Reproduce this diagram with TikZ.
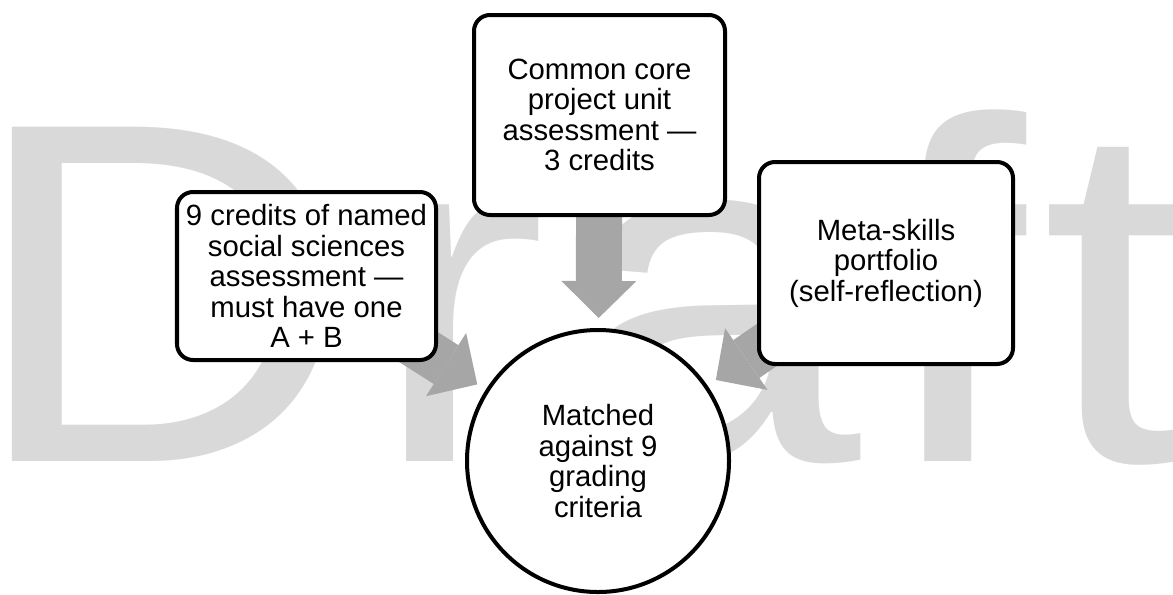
\documentclass[tikz,border=0pt]{standalone}
\usepackage{fontspec}
\setmainfont{Liberation Sans}
\usepackage{graphicx}
\usepackage{tikz}
\usetikzlibrary{arrows.meta,positioning}
\definecolor{wmgray}{RGB}{217,217,217}
\definecolor{feedgray}{RGB}{166,166,166}
\newcommand{\cardfont}{\fontsize{20.84pt}{21.7pt}\selectfont}
\newcommand{\wmfont}{\fontsize{345.7pt}{345.7pt}\selectfont}
\pgfdeclarelayer{back}
\pgfdeclarelayer{mid}
\pgfsetlayers{back,mid,main}
\tikzset{
  card/.style={draw=black,line width=2.85pt,rounded corners=11.4pt,fill=white,align=center,inner sep=0pt,font=\cardfont},
  hub/.style={circle,draw=black,line width=2.85pt,fill=white,align=center,inner sep=0pt,minimum size=65.5mm,font=\cardfont},
  feed/.style={-{Triangle[width=53.3pt,length=26.3pt,line width=0pt]},draw=feedgray,line width=32.7pt,shorten >=2.5mm},
  wmark/.style={text=wmgray,inner sep=0pt,font=\wmfont}
}
\begin{document}
\begin{tikzpicture}[x=0.25mm,y=0.25mm]
\useasboundingbox (0,0) rectangle (1173,-594);
\node[card,minimum width=62.75mm,minimum height=50mm] (core) at (599.5,-115) {Common core\\project unit\\assessment —\\3 credits};
\node[card,minimum width=64.75mm,minimum height=42mm] (social) at (306.5,-276) {9 credits of named\\social sciences\\assessment —\\must have one\\A + B};
\node[card,minimum width=63.5mm,minimum height=50.5mm] (meta) at (886,-263) {Meta-skills\\portfolio\\(self-reflection)};
\node[hub] (crit) at (598,-461) {Matched\\against 9\\grading\\criteria};

\begin{pgfonlayer}{mid}
\draw[feed] (core.center) -- (crit);
\draw[feed] (social.center) -- (crit);
\draw[feed] (meta.center) -- (crit);
\end{pgfonlayer}

\begin{pgfonlayer}{back}
\node[wmark,anchor=base west] (draft) at (0,-461) {\scalebox{1.1}[1]{\kern-7.27mm D\kern3.625mm r\kern3.625mm a\kern3.625mm f\kern3.625mm t\kern-1mm}};
\end{pgfonlayer}
\end{tikzpicture}
\end{document}
